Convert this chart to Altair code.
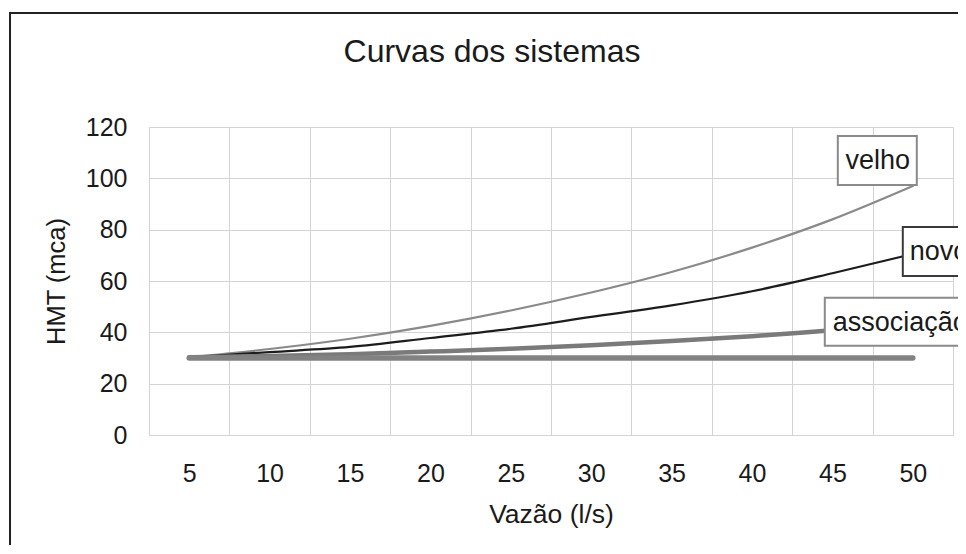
import altair as alt
import pandas as pd

# ---- data ----
vazao = [5, 10, 15, 20, 25, 30, 35, 40, 45, 50]
velho = [30.3, 33.5, 37.5, 42.5, 48.5, 55.5, 63.5, 73.0, 84.0, 97.0]
novo = [30.3, 32.3, 34.3, 37.8, 41.4, 46.0, 50.5, 56.0, 63.0, 70.5]
associacao = [30.3, 30.8, 31.5, 32.5, 33.6, 35.0, 36.6, 38.5, 40.8, 43.0]
estatico = [30.0, 30.0, 30.0, 30.0, 30.0, 30.0, 30.0, 30.0, 30.0, 30.0]
series_names = ["velho", "novo", "associação", "estático"]
y_ticks = [0, 20, 40, 60, 80, 100, 120]

rows = []
for name, vals in zip(series_names, [velho, novo, associacao, estatico]):
    for q, h in zip(vazao, vals):
        rows.append({"serie": name, "vazao": q, "hmt": h})
df = pd.DataFrame(rows)

FONT = "Liberation Sans"
TXT = "#1a1a1a"

x_enc = alt.X(
    "vazao:O",
    sort=vazao,
    scale=alt.Scale(type="band", paddingInner=0, paddingOuter=0),
    axis=alt.Axis(
        title="Vazão (l/s)", tickBand="extent", grid=True, gridColor="#d4d4d4",
        gridWidth=1, ticks=False, domain=False, labelAngle=0, labelPadding=26,
        titlePadding=15, labelFontSize=25, titleFontSize=26.5, labelColor=TXT,
        titleColor=TXT, labelFont=FONT, titleFont=FONT, titleFontWeight="normal",
    ),
)
y_enc = alt.Y(
    "hmt:Q",
    scale=alt.Scale(domain=[0, 120], nice=False),
    axis=alt.Axis(
        title="HMT (mca)", values=y_ticks, grid=True, gridColor="#d4d4d4",
        gridWidth=1, ticks=False, domain=False, labelPadding=22, titlePadding=16,
        labelFontSize=25, titleFontSize=25.5, labelColor=TXT, titleColor=TXT,
        labelFont=FONT, titleFont=FONT, titleFontWeight="normal",
    ),
)

base = alt.Chart(df).encode(x=x_enc, y=y_enc)

line_styles = {
    "velho": ("#8a8a8a", 2.2),
    "novo": ("#1c1c1c", 2.2),
    "associação": ("#7a7a7a", 4.5),
    "estático": ("#828282", 5.5),
}

layers = []

# outer frame of the whole figure
frame = alt.Chart(alt.Data(values=[{}])).mark_rect(
    fill="transparent", stroke="#222222", strokeWidth=2
).encode(
    x=alt.value(-139), x2=alt.value(900), y=alt.value(-114), y2=alt.value(500)
)
layers.append(frame)

for name in series_names:
    color, width = line_styles[name]
    layers.append(
        base.transform_filter(alt.datum.serie == name).mark_line(
            color=color, strokeWidth=width, strokeCap="round",
            strokeJoin="round", interpolate="monotone",
        )
    )

# label boxes anchored at the last point of each labelled series
def box(x0, x1, y0, y1):
    return f"M{x0},{y0}L{x1},{y0}L{x1},{y1}L{x0},{y1}Z"

labels = [
    # name, box path, box stroke, text dx, dy, align
    ("velho", box(-75, 4, -50, -1), "#8a8a8a", -35, -25, "center"),
    ("novo", box(-10, 70, -27, 22), "#3a3a3a", -3, -2, "left"),
    ("associação", box(-88, 70, -27, 21), "#8a8a8a", -80, -2, "left"),
]
for name, path, stroke, dx, dy, align in labels:
    sel = base.transform_filter(
        (alt.datum.serie == name) & (alt.datum.vazao == vazao[-1])
    )
    layers.append(
        sel.mark_point(
            shape=path, size=4, filled=True, fill="white", stroke=stroke,
            strokeWidth=2, opacity=1, fillOpacity=1, strokeOpacity=1,
        )
    )
    layers.append(
        sel.mark_text(
            text=name, dx=dx, dy=dy, align=align, baseline="middle",
            fontSize=27, font=FONT, color=TXT,
        )
    )

chart = alt.layer(*layers).properties(
    width=804,
    height=308,
    title=alt.Title(
        "Curvas dos sistemas", fontSize=32, fontWeight="normal", font=FONT,
        color=TXT, anchor="middle", dx=-59, offset=-82, baseline="alphabetic",
    ),
    autosize=alt.AutoSizeParams(type="none"),
    padding={"left": 141, "top": 119, "right": 5, "bottom": 110},
).configure_view(
    stroke="#7a7a7a", strokeWidth=2
).configure(
    background="white", font=FONT
)

chart.save("out.html", embed_options={"renderer": "svg", "actions": False})
